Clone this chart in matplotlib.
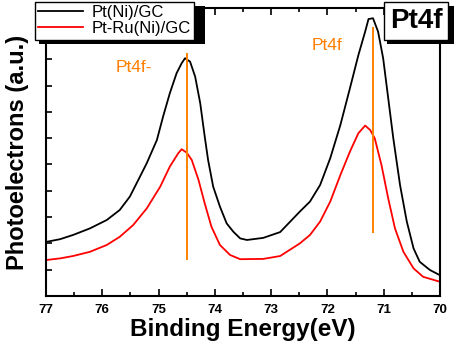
import matplotlib.pyplot as plt
from matplotlib.patches import Rectangle
from matplotlib.ticker import MultipleLocator, NullFormatter

plt.rcParams['font.family'] = ['Liberation Sans', 'DejaVu Sans']

# binding energy (eV) and intensity (a.u.)
be_ni = [76.99, 76.75, 76.52, 76.22, 75.92, 75.69, 75.51, 75.33, 75.21, 75.03, 74.92,
         74.80, 74.68, 74.59, 74.53, 74.44, 74.35, 74.26, 74.18, 74.12, 74.03, 73.91,
         73.79, 73.67, 73.55, 73.43, 73.14, 72.84, 72.49, 72.31, 72.13, 71.95, 71.77,
         71.60, 71.45, 71.33, 71.27, 71.19, 71.10, 71.01, 70.92, 70.83, 70.71, 70.59,
         70.47, 70.36, 70.18, 70.01]
int_ni = [2.06, 2.16, 2.32, 2.57, 2.89, 3.27, 3.78, 4.54, 5.05, 5.93, 6.82,
          7.71, 8.47, 8.85, 9.04, 8.91, 8.34, 7.33, 6.06, 5.17, 4.16, 3.40,
          2.76, 2.44, 2.19, 2.13, 2.21, 2.43, 3.21, 3.59, 4.22, 5.24, 6.50,
          7.90, 9.16, 10.05, 10.53, 10.56, 10.05, 9.04, 7.52, 6.00, 4.22, 2.83,
          1.81, 1.30, 0.99, 0.80]

be_ru = [76.99, 76.75, 76.52, 76.22, 75.92, 75.69, 75.45, 75.21, 74.97, 74.80, 74.65,
         74.59, 74.50, 74.41, 74.29, 74.18, 74.06, 73.91, 73.73, 73.55, 73.14, 72.84,
         72.49, 72.31, 72.13, 71.95, 71.77, 71.60, 71.45, 71.33, 71.24, 71.16, 71.04,
         70.92, 70.80, 70.65, 70.47, 70.30, 70.0]
int_ru = [1.37, 1.43, 1.52, 1.68, 1.94, 2.25, 2.70, 3.33, 4.16, 4.92, 5.43,
          5.58, 5.45, 5.17, 4.41, 3.52, 2.63, 1.94, 1.56, 1.40, 1.41, 1.52,
          2.00, 2.32, 2.83, 3.59, 4.60, 5.49, 6.19, 6.48, 6.31, 6.00, 4.98,
          3.71, 2.57, 1.68, 1.05, 0.73, 0.54]

peak_pos = [74.49, 71.19]
peak_lo = [1.37, 2.38]
peak_hi = [9.23, 10.24]
peak_names = ['Pt4f-', 'Pt4f']
label_x = [75.44, 72.01]
label_y = [8.67, 9.54]

W, H = 454, 348
fig = plt.figure(figsize=(W / 100, H / 100), dpi=100)
ax = fig.add_axes([46/W, 52/H, 394/W, 288/H])

ax.plot(be_ni, int_ni, color='black', lw=1.3, label='Pt(Ni)/GC')
ax.plot(be_ru, int_ru, color='#ff0000', lw=1.3, label='Pt-Ru(Ni)/GC')
ax.vlines(peak_pos, peak_lo, peak_hi, color='#ff8000', lw=1.4)
for name, x, y in zip(peak_names, label_x, label_y):
    ax.text(x, y, name, color='#ff8000', fontsize=12.5, ha='center', va='center')

ax.set_xlim(77, 70)
ax.set_ylim(0, 10.95)
ax.set_xticks(range(70, 78), [str(v) for v in range(70, 78)], fontweight='bold', fontsize=9.5)
ax.xaxis.set_minor_locator(MultipleLocator(0.5))
ax.yaxis.set_major_locator(MultipleLocator(1))
ax.yaxis.set_major_formatter(NullFormatter())
ax.tick_params(axis='x', which='both', direction='in', top=True, pad=6, width=1.2)
ax.tick_params(axis='x', which='major', length=5)
ax.tick_params(axis='x', which='minor', length=3)
ax.tick_params(axis='y', which='major', direction='in', length=4, width=1.2, left=True, right=False)
for s in ax.spines.values():
    s.set_linewidth(1.5)

ax.set_xlabel('Binding Energy(eV)', fontsize=17.5, fontweight='bold', labelpad=1)
ax.set_ylabel('Photoelectrons (a.u.)', fontsize=17, fontweight='bold', labelpad=9)

leg = fig.legend(loc='upper left', bbox_to_anchor=(35/W, 1 - 2/H), bbox_transform=fig.transFigure,
                 borderaxespad=0, fontsize=12, frameon=True, fancybox=False, handlelength=2.7,
                 labelspacing=0.05, borderpad=0.2, handletextpad=0.5, framealpha=1)
leg.get_frame().set_edgecolor('black')
leg.get_frame().set_linewidth(1.0)
leg.set_zorder(6)

fig.text(416/W, 1 - 21/H, 'Pt4f', fontsize=20, fontweight='bold', ha='center', va='center', zorder=6,
         bbox=dict(boxstyle='square,pad=0.2', fc='white', ec='black', lw=1.0))

# solid drop shadows behind the legend and the tag box
for x0, y0, x1, y1 in [(39, 6, 205, 44), (387, 6, 454, 44)]:
    fig.add_artist(Rectangle((x0/W, 1 - y1/H), (x1 - x0)/W, (y1 - y0)/H, transform=fig.transFigure,
                             facecolor='black', edgecolor='none', zorder=4))

fig.savefig('out.png', dpi=100)
